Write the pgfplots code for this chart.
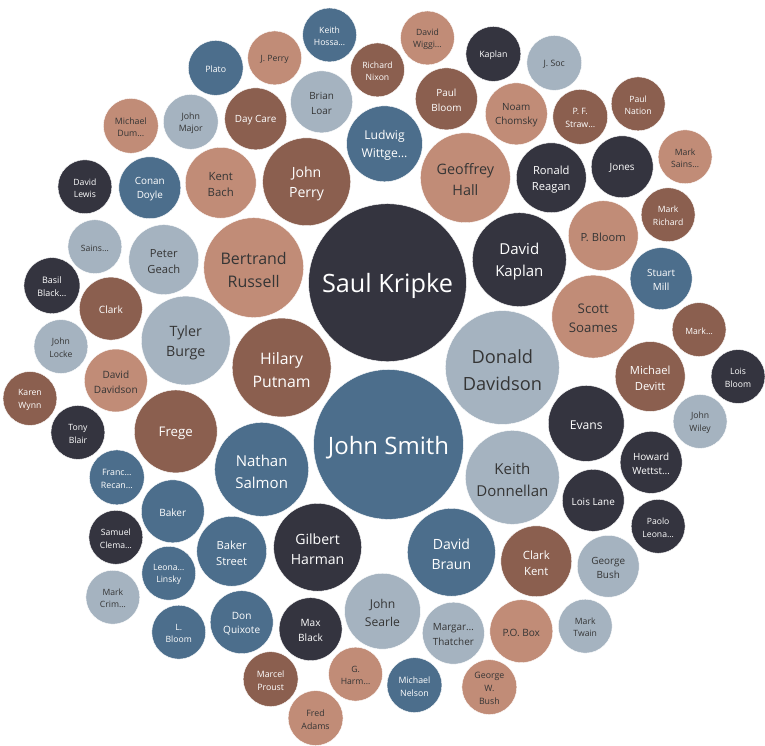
\documentclass[border=0pt]{standalone}
\usepackage{fontspec}
\setmainfont{Open Sans}
\usepackage{pgfplots}
\usepackage{pgfplotstable}
\pgfplotsset{compat=1.18}

\definecolor{cdark}{HTML}{34343F}
\definecolor{cblue}{HTML}{4C6E8C}
\definecolor{clight}{HTML}{A5B3C0}
\definecolor{ctan}{HTML}{C18C77}
\definecolor{cbrown}{HTML}{8B5F4F}
\definecolor{ctext}{HTML}{353535}

% x, y in pixels (y from top), r = radius
\pgfplotstableread[col sep=comma]{
x,y,r,label
388,283,79,{Saul Kripke}
494,54,27.5,{Kaplan}
85,187,27,{David\\Lewis}
520,260,47,{David\\Kaplan}
552,178,35,{Ronald\\Reagan}
623,167,31,{Jones}
52,286,28,{Basil\\Black…}
78,433,27,{Tony\\Blair}
587,424,38,{Evans}
739,377,27,{Lois\\Bloom}
652,463,31,{Howard\\Wettst…}
594,501,31,{Lois Lane}
659,527,27,{Paolo\\Leona…}
116,538,27,{Samuel\\Clema…}
318,548,44,{Gilbert\\Harman}
311,630,31.5,{Max\\Black}
}\darkdata

\pgfplotstableread[col sep=comma]{
x,y,r,label
389,445,75,{John Smith}
330,35,27,{Keith\\Hossa…}
216,68,27.5,{Plato}
385,144,38,{Ludwig\\Wittge…}
150,188,31,{Conan\\Doyle}
662,279,31,{Stuart\\Mill}
262,470,47,{Nathan\\Salmon}
117,478,27.5,{Franc…\\Recan…}
452,553,44,{David\\Braun}
173,512,31.5,{Baker}
232,552,35,{Baker\\Street}
169,574,27,{Leona…\\Linsky}
179,633,27,{L.\\Bloom}
242,623,31.5,{Don\\Quixote}
415,686,27.5,{Michael\\Nelson}
}\bluedata

\pgfplotstableread[col sep=comma]{
x,y,r,label
322,102,31,{Brian\\Loar}
191,122,27.5,{John\\Major}
555,63,27.5,{J. Soc}
95,247,27,{Sains…}
164,260,35,{Peter\\Geach}
186,341,44.5,{Tyler\\Burge}
61,347,27,{John\\Locke}
503,368,57,{Donald\\Davidson}
701,422,27,{John\\Wiley}
513,478,47,{Keith\\Donnellan}
609,567,31,{George\\Bush}
383,612,38,{John\\Searle}
454,634,31,{Margar…\\Thatcher}
586,627,27,{Mark\\Twain}
113,598,27,{Mark\\Crim…}
}\lightdata

\pgfplotstableread[col sep=comma]{
x,y,r,label
275,58,27,{J. Perry}
131,126,27.5,{Michael\\Dum…}
221,183,35.5,{Kent\\Bach}
428,38,27,{David\\Wiggi…}
517,114,31,{Noam\\Chomsky}
466,178,45,{Geoffrey\\Hall}
686,157,27,{Mark\\Sains…}
604,236,35,{P. Bloom}
254,268,50,{Bertrand\\Russell}
594,317,41.5,{Scott\\Soames}
116,381,31.5,{David\\Davidson}
522,632,31.5,{P.O. Box}
490,688,27.5,{George\\W.\\Bush}
356,675,27,{G.\\Harm…}
316,719,27.5,{Fred\\Adams}
}\tandata

\pgfplotstableread[col sep=comma]{
x,y,r,label
378,70,27,{Richard\\Nixon}
256,119,31,{Day Care}
307,182,44,{John\\Perry}
447,99,31,{Paul\\Bloom}
581,117,27.5,{P. F.\\Straw…}
639,104,27,{Paul\\Nation}
669,215,27,{Mark\\Richard}
700,330,27,{Mark…}
651,377,35,{Michael\\Devitt}
111,309,31.5,{Clark}
282,368,49.5,{Hilary\\Putnam}
30,399,27,{Karen\\Wynn}
176,432,41.5,{Frege}
537,562,35.5,{Clark\\Kent}
271,680,27.5,{Marcel\\Proust}
}\browndata

\pgfplotsset{
  circ/.style={
    scatter, only marks, mark=*,
    point meta=\thisrow{r},
    scatter/use mapped color={draw=white, fill=#1},
    visualization depends on={\thisrow{r} \as \rad},
    scatter/@pre marker code/.append style={/tikz/mark size=\rad, /tikz/line width=1.4pt},
  },
  lab/.style={
    only marks, mark=none,
    point meta=explicit symbolic,
    visualization depends on={\thisrow{r} \as \rad},
    nodes near coords,
    nodes near coords align=center,
    every node near coord/.append style={anchor=center, align=center,
      text=#1, inner sep=0pt,
      font=\fontsize{10}{14.5}\selectfont, scale=0.032*\rad, yshift=-1.5pt},
  },
}

\begin{document}
\begin{tikzpicture}
\begin{axis}[
    x=1pt, y=1pt,
    xmin=0, xmax=765, ymin=0, ymax=746,
    y dir=reverse,
    axis line style={draw=none},
    ticks=none,
    clip=false,
  ]
  \addplot[circ=cdark] table[x=x, y=y] {\darkdata};
  \addplot[circ=cblue] table[x=x, y=y] {\bluedata};
  \addplot[circ=clight] table[x=x, y=y] {\lightdata};
  \addplot[circ=ctan] table[x=x, y=y] {\tandata};
  \addplot[circ=cbrown] table[x=x, y=y] {\browndata};
  \addplot[lab=white] table[x=x, y=y, meta=label] {\darkdata};
  \addplot[lab=white] table[x=x, y=y, meta=label] {\bluedata};
  \addplot[lab=ctext] table[x=x, y=y, meta=label] {\lightdata};
  \addplot[lab=ctext] table[x=x, y=y, meta=label] {\tandata};
  \addplot[lab=white] table[x=x, y=y, meta=label] {\browndata};
\end{axis}
\end{tikzpicture}
\end{document}
